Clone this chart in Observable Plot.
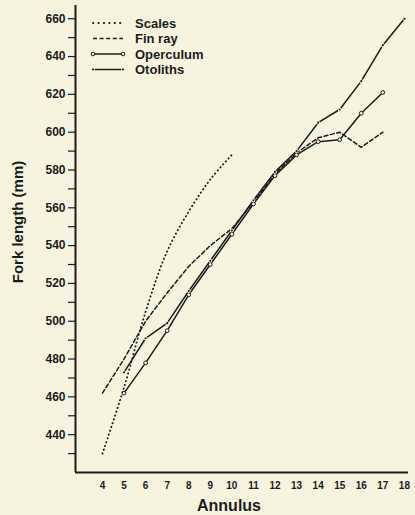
<!DOCTYPE html>
<html><head><meta charset="utf-8">
<script src="https://cdn.jsdelivr.net/npm/d3@7"></script>
<script src="https://cdn.jsdelivr.net/npm/@observablehq/plot@0.6"></script>
<style>
html,body{margin:0;padding:0;background:#f6f4df;}
#chart{position:relative;width:415px;height:515px;font-family:"Liberation Sans",Arial,Helvetica,sans-serif;overflow:hidden;}
#chart svg{position:absolute;left:0;top:0;}
</style></head><body><div id="chart"></div>
<script>
const seriesNames = ["Scales", "Fin ray", "Operculum", "Otoliths"];
const scalesAnnulus = [4, 5, 6, 7, 8, 9, 10];
const scalesLength = [430, 465, 505, 537, 558, 575, 588];
const finRayAnnulus = [4, 5, 6, 7, 8, 9, 10, 11, 12, 13, 14, 15, 16, 17];
const finRayLength = [462, 480, 500, 515, 529, 540, 549, 563, 578, 589, 597, 600, 592, 600];
const operculumAnnulus = [5, 6, 7, 8, 9, 10, 11, 12, 13, 14, 15, 16, 17];
const operculumLength = [462, 478, 495, 514, 530, 546, 562, 577, 588, 595, 596, 610, 621];
const otolithsAnnulus = [5, 6, 7, 8, 9, 10, 11, 12, 13, 14, 15, 16, 17, 18];
const otolithsLength = [473, 491, 499, 516, 532, 548, 564, 579, 590, 605, 612, 627, 646, 660];
const xTicks = [4, 5, 6, 7, 8, 9, 10, 11, 12, 13, 14, 15, 16, 17, 18];
const yTicks = [440, 460, 480, 500, 520, 540, 560, 580, 600, 620, 640, 660];
const yMinorTicks = [430, 450, 470, 490, 510, 530, 550, 570, 590, 610, 630, 650];
const xLabel = "Annulus";
const yLabel = "Fork length (mm)";

const ink = "#1c1c1c", bg = "#f6f4df";
const font = '"Liberation Sans", Arial, Helvetica, sans-serif';
const rows = (name, xs, ys) => xs.map((a, i) => ({series: name, annulus: a, length: ys[i]}));
const scales = rows(seriesNames[0], scalesAnnulus, scalesLength);
const finRay = rows(seriesNames[1], finRayAnnulus, finRayLength);
const operculum = rows(seriesNames[2], operculumAnnulus, operculumLength);
const otoliths = rows(seriesNames[3], otolithsAnnulus, otolithsLength);
const xDomain = [2.75, 18.19];
const yDomain = [420, 667];

const styles = {
  "Scales": {strokeWidth: 1.8, strokeDasharray: "0.4 3.6", strokeLinecap: "round"},
  "Fin ray": {strokeWidth: 1.5, strokeDasharray: "4 2.6"},
  "Operculum": {strokeWidth: 1.5},
  "Otoliths": {strokeWidth: 1.5}
};

const plot = Plot.plot({
  width: 415, height: 515,
  marginLeft: 75, marginRight: 7, marginTop: 5, marginBottom: 43,
  style: {background: "transparent", fontFamily: font, color: ink, overflow: "visible"},
  x: {domain: xDomain, axis: null},
  y: {domain: yDomain, axis: null},
  marks: [
    Plot.axisY(yTicks, {tickSize: 7, tickPadding: 3, fontSize: 12, fontWeight: "bold", label: null, strokeWidth: 1.2, fill: ink, stroke: ink}),
    Plot.axisY(yMinorTicks, {tickSize: 7, tickFormat: () => "", label: null, strokeWidth: 1.2, stroke: ink}),
    Plot.axisX(xTicks, {tickSize: 0, tickPadding: 9, fontSize: 10, fontWeight: "bold", label: null, fill: ink}),
    Plot.ruleX([xDomain[0]], {stroke: ink, strokeWidth: 2}),
    Plot.ruleY([yDomain[0]], {stroke: ink, strokeWidth: 2.2}),
    Plot.line(scales, {x: "annulus", y: "length", stroke: ink, curve: "catmull-rom", ...styles["Scales"]}),
    Plot.line(finRay, {x: "annulus", y: "length", stroke: ink, ...styles["Fin ray"]}),
    Plot.line(operculum, {x: "annulus", y: "length", stroke: ink, ...styles["Operculum"]}),
    Plot.line(otoliths, {x: "annulus", y: "length", stroke: ink, ...styles["Otoliths"]}),
    Plot.dot(operculum, {x: "annulus", y: "length", r: 1.9, fill: bg, stroke: ink, strokeWidth: 1}),
    Plot.dot(otoliths, {x: "annulus", y: "length", r: 1.1, fill: ink, stroke: bg, strokeWidth: 1.6, paintOrder: "stroke"})
  ]
});
const chart = document.getElementById("chart");
chart.appendChild(plot);

// overlay: axis titles and legend
const svg = d3.select(chart).append("svg")
  .attr("width", 415).attr("height", 515)
  .style("font-family", font).style("pointer-events", "none");
svg.append("text").text(xLabel)
  .attr("x", 229).attr("y", 511).attr("text-anchor", "middle")
  .attr("font-size", 16).attr("font-weight", "bold").attr("fill", ink);
svg.append("text").text(yLabel)
  .attr("transform", "translate(23,222) rotate(-90)").attr("text-anchor", "middle")
  .attr("font-size", 15).attr("font-weight", "bold").attr("fill", ink);

const leg = svg.append("g");
seriesNames.forEach((name, i) => {
  const yb = 27.5 + i * 15.5, yc = yb - 4.5;
  const st = styles[name];
  leg.append("line").attr("x1", 93).attr("x2", 123).attr("y1", yc).attr("y2", yc)
    .attr("stroke", ink).attr("stroke-width", st.strokeWidth)
    .attr("stroke-dasharray", name === "Scales" ? "0.4 5" : (st.strokeDasharray || null))
    .attr("stroke-linecap", st.strokeLinecap || null);
  if (name === "Operculum") {
    [93, 123].forEach(cx => leg.append("circle").attr("cx", cx).attr("cy", yc).attr("r", 1.8)
      .attr("fill", bg).attr("stroke", ink).attr("stroke-width", 1));
  }
  if (name === "Otoliths") {
    [93, 123].forEach(cx => leg.append("circle").attr("cx", cx).attr("cy", yc).attr("r", 1.1)
      .attr("fill", ink).attr("stroke", bg).attr("stroke-width", 1.6).attr("paint-order", "stroke"));
  }
  leg.append("text").text(name).attr("x", 135).attr("y", yb)
    .attr("font-size", 13).attr("font-weight", "bold").attr("fill", ink);
});
</script></body></html>
